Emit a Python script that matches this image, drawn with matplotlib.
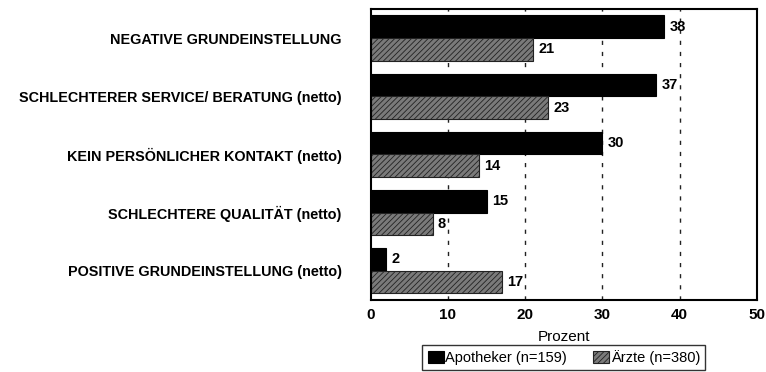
import matplotlib.pyplot as plt
import numpy as np

plt.rcParams['font.family'] = ['Liberation Sans', 'DejaVu Sans']
plt.rcParams['hatch.linewidth'] = 0.6

# Reasons, top to bottom
categories = [
    "NEGATIVE GRUNDEINSTELLUNG",
    "SCHLECHTERER SERVICE/ BERATUNG (netto)",
    "KEIN PERSÖNLICHER KONTAKT (netto)",
    "SCHLECHTERE QUALITÄT (netto)",
    "POSITIVE GRUNDEINSTELLUNG (netto)",
]
apotheker = [38, 37, 30, 15, 2]
aerzte = [21, 23, 14, 8, 17]
series_names = ["Apotheker (n=159)", "Ärzte (n=380)"]
xticks = [0, 10, 20, 30, 40, 50]

fig = plt.figure(figsize=(7.66, 3.72), dpi=100)
ax = fig.add_axes([0.484, 0.194, 0.504, 0.782])

y = np.arange(len(categories))
h = 0.39

b1 = ax.barh(y - h / 2, apotheker, height=h, color='black',
             edgecolor='black', linewidth=0.8, label=series_names[0])
b2 = ax.barh(y + h / 2, aerzte, height=h, color='#7a7a7a', hatch='//////',
             edgecolor='#222222', linewidth=0.8, label=series_names[1])

for bars, vals in ((b1, apotheker), (b2, aerzte)):
    for bar, v in zip(bars, vals):
        ax.text(v + 0.7, bar.get_y() + bar.get_height() / 2, f"{v}",
                va='center', ha='left', fontsize=10.5, fontweight='bold')

ax.set_ylim(len(categories) - 0.5, -0.5)
ax.set_xlim(0, 50)
ax.set_xticks(xticks)
ax.set_xticklabels([str(t) for t in xticks], fontsize=11, fontweight='bold')
ax.set_yticks(y)
ax.set_yticklabels(categories, fontsize=10.4, fontweight='bold')
ax.tick_params(axis='y', length=0, pad=21)
ax.tick_params(axis='x', length=0, pad=6)

for gx in xticks[1:-1]:
    ax.axvline(gx, color='#222222', linewidth=1.0, linestyle=(0, (3, 5)), zorder=0)

for s in ax.spines.values():
    s.set_linewidth(1.5)

ax.set_xlabel("Prozent", fontsize=11, labelpad=6)

leg = fig.legend(loc='upper center', bbox_to_anchor=(0.736, 0.073), ncol=2,
                 fontsize=10.5, frameon=True, fancybox=False, edgecolor='black',
                 handlelength=1.1, handleheight=0.9, handletextpad=0.1,
                 columnspacing=1.8, borderpad=0.35, borderaxespad=0)
leg.get_frame().set_linewidth(1.0)

fig.savefig("out.png", dpi=100)
